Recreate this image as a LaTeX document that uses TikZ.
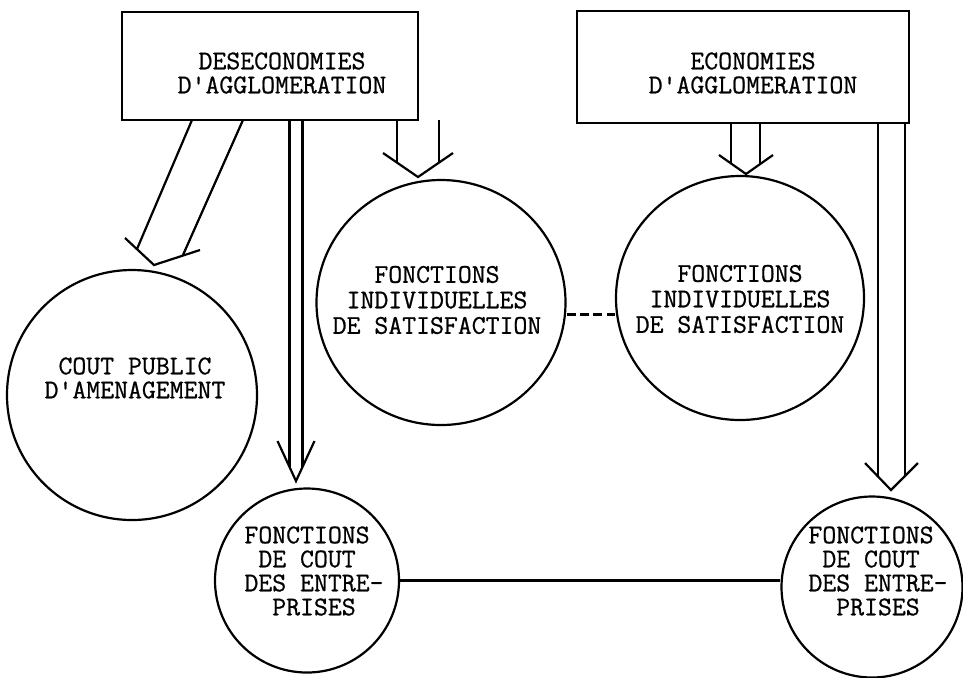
\documentclass[tikz,border=0pt]{standalone}
\usepackage{fontspec}
\newfontfamily\typer{Latin Modern Mono}[FakeBold=0.8]
\usetikzlibrary{shapes.geometric}
\begin{document}
\begin{tikzpicture}[x=0.5pt,y=-0.5pt,
  line width=1.1pt,
  boxnode/.style={draw, rectangle, inner sep=0pt},
  ring/.style={draw, ellipse, inner sep=0pt},
  tw/.style={font=\fontsize{13.5}{12}\selectfont\typer, align=center, inner sep=0pt},
  twl/.style={font=\fontsize{13.5}{12}\selectfont\typer, align=left, inner sep=0pt},
  tws/.style={font=\fontsize{13.5}{12.75}\selectfont\typer, align=center, inner sep=0pt},
  hollow/.style={line width=1.1pt, line join=miter}]
\useasboundingbox (0,0) rectangle (963,677);

% boxes
\node[boxnode, minimum width=148pt, minimum height=54pt] (dis) at (270,66) {};
\node[tw] (distxt) at (282,73) {DESECONOMIES\\D'AGGLOMERATION};
\node[boxnode, minimum width=166pt, minimum height=56pt] (eco) at (743,67) {};
\node[tw] (ecotxt) at (753,73) {ECONOMIES\\D'AGGLOMERATION};

% circles
\node[ring, minimum width=125pt, minimum height=125pt] (cpa) at (132,395) {};
\node[tw] (cpatxt) at (135,378) {COUT PUBLIC\\D'AMENAGEMENT};

\node[ring, minimum width=124.5pt, minimum height=122.5pt] (fis1) at (441,302.5) {};
\node[tws] (fis1txt) at (437,300) {FONCTIONS\\INDIVIDUELLES\\DE SATISFACTION};
\node[ring, minimum width=124pt, minimum height=122pt] (fis2) at (740,298) {};
\node[tws] (fis2txt) at (740,299) {FONCTIONS\\INDIVIDUELLES\\DE SATISFACTION};

\node[ring, minimum width=92pt, minimum height=92pt] (fce1) at (307,580.5) {};
\node[twl] (fce1txt) at (314,571) {FONCTIONS\\\ DE COUT\\DES ENTRE-\\\ \ PRISES};
\node[ring, minimum width=90.5pt, minimum height=90.5pt] (fce2) at (872,587) {};
\node[twl] (fce2txt) at (878,571) {FONCTIONS\\\ DE COUT\\DES ENTRE-\\\ \ PRISES};

% links between circles
\draw[dash pattern=on 4.5pt off 2.2pt] ([yshift=-6pt]fis1.east) -- ([yshift=-6pt]fis1.east -| fis2.west);
\draw (fce1.east) -- (fce1.east -| fce2.west);

% hollow arrows
% diseconomies -> public cost (diagonal)
\draw[hollow] (192,120) -- (137,249);
\draw[hollow] (243,120) -- (183,255);
\draw[hollow] (125,238) -- (154,265) -- (200,250);
% diseconomies -> firms' cost
\draw[hollow] (289.5,120) -- (289.5,467);
\draw[hollow] (302.5,120) -- (302.5,467);
\draw[hollow] (277.5,441) -- (296,481) -- (314.5,441);
% diseconomies -> satisfaction
\draw[hollow] (397,120) -- (397,163);
\draw[hollow] (439,120) -- (439,163);
\draw[hollow] (383,153) -- (418,177) -- (453,153);
% economies -> satisfaction
\draw[hollow] (731,123) -- (731,164);
\draw[hollow] (760,123) -- (760,164);
\draw[hollow] (719,155) -- (746,174) -- (773,155);
% economies -> firms' cost
\draw[hollow] (878,123) -- (878,476);
\draw[hollow] (905,123) -- (905,476);
\draw[hollow] (865,463) -- (891,490) -- (918,463);
\end{tikzpicture}
\end{document}
